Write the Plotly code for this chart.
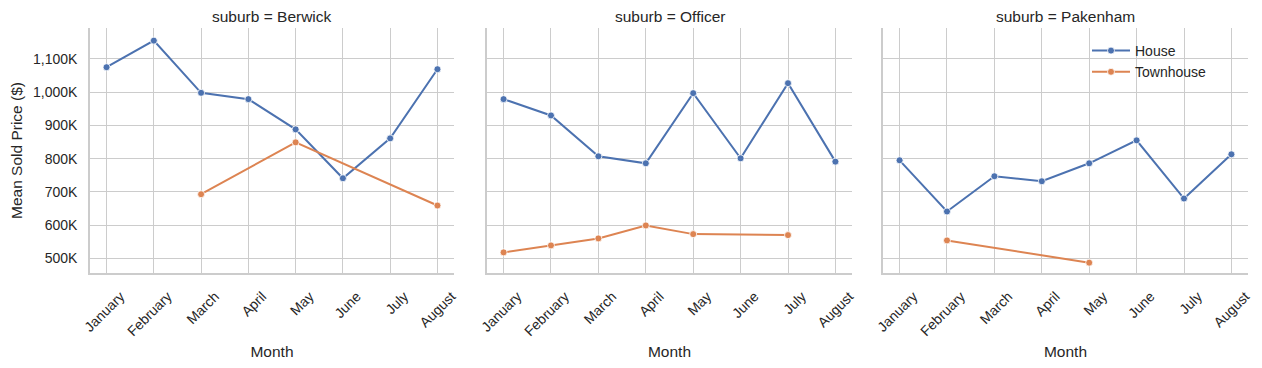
import plotly.graph_objects as go
from plotly.subplots import make_subplots

months = ["January", "February", "March", "April", "May", "June", "July", "August"]
suburbs = ["Berwick", "Officer", "Pakenham"]

berwick_house = [1075000, 1155000, 998000, 979000, 888000, 741000, 861000, 1069000]
berwick_townhouse = [None, None, 693000, None, 849000, None, None, 659000]
officer_house = [979000, 930000, 807000, 786000, 997000, 801000, 1027000, 791000]
officer_townhouse = [518000, 539000, 560000, 599000, 573000, None, 570000, None]
pakenham_house = [795000, 641000, 747000, 732000, 786000, 855000, 680000, 813000]
pakenham_townhouse = [None, 554000, None, None, 487000, None, None, None]

y_tickvals = [500000, 600000, 700000, 800000, 900000, 1000000, 1100000]
y_ticktext = ["500K", "600K", "700K", "800K", "900K", "1,000K", "1,100K"]

house_color = "#4c72b0"
town_color = "#dd8452"
FONT = "Liberation Sans, Arial, sans-serif"
TXT = "#262626"
GRID = "#cccccc"

OFF = 8  # page body margin
W, H = 1262 - OFF, 368 - OFF
fig = make_subplots(rows=1, cols=3, shared_yaxes=True)

data = {
    "Berwick": (berwick_house, berwick_townhouse),
    "Officer": (officer_house, officer_townhouse),
    "Pakenham": (pakenham_house, pakenham_townhouse),
}

for i, s in enumerate(suburbs):
    h, t = data[s]
    for name, vals, col in (("House", h, house_color), ("Townhouse", t, town_color)):
        fig.add_trace(
            go.Scatter(
                x=months, y=vals, mode="lines+markers", name=name,
                connectgaps=True, showlegend=(i == 2), legendgroup=name,
                line=dict(color=col, width=2),
                marker=dict(color=col, size=7, line=dict(color="white", width=0.8)),
            ),
            row=1, col=i + 1,
        )

# panel pixel extents (page coords)
panels = [(90, 454), (487, 852), (883, 1248)]
top_px, bot_px = 28 - OFF, 273 - OFF
ydom = [1 - bot_px / H, 1 - top_px / H]

for i, (l, r) in enumerate(panels):
    l, r = l - OFF, r - OFF
    ax = "xaxis" if i == 0 else f"xaxis{i+1}"
    yax = "yaxis" if i == 0 else f"yaxis{i+1}"
    fig.layout[ax].update(
        domain=[l / W, r / W], type="category", categoryorder="array",
        categoryarray=months, range=[-0.35, 7.35], automargin=False,
        showgrid=True, gridcolor=GRID, gridwidth=1,
        showline=True, linecolor=GRID, linewidth=1.5,
        ticks="", tickangle=-45, ticklabelshift=14, ticklabelstandoff=8,
        tickfont=dict(family=FONT, size=14, color=TXT),
        title=dict(text="Month", font=dict(family=FONT, size=15.5, color=TXT), standoff=8),
        zeroline=False,
    )
    fig.layout[yax].update(
        domain=ydom, range=[456000, 1193000], automargin=False,
        tickvals=y_tickvals, ticktext=y_ticktext,
        showgrid=True, gridcolor=GRID, gridwidth=1,
        showline=True, linecolor=GRID, linewidth=1.5,
        ticks="", showticklabels=(i == 0), ticklabelstandoff=8,
        tickfont=dict(family=FONT, size=14, color=TXT),
        zeroline=False,
    )
    fig.add_annotation(
        text=f"suburb = {suburbs[i]}", xref="paper", yref="paper",
        x=(l + r) / 2 / W, y=1 - (16 - OFF) / H, xanchor="center", yanchor="middle",
        showarrow=False, font=dict(family=FONT, size=15.5, color=TXT),
    )

fig.layout.yaxis.title = dict(text="Mean Sold Price ($)", font=dict(family=FONT, size=15.5, color=TXT), standoff=18)

fig.update_layout(
    width=W, height=H, margin=dict(l=0, r=0, t=0, b=0, autoexpand=False),
    paper_bgcolor="white", plot_bgcolor="white",
    legend=dict(
        x=(1087 - OFF) / W, y=1 - (35 - OFF) / H, xanchor="left", yanchor="top",
        bgcolor="rgba(0,0,0,0)", font=dict(family=FONT, size=14, color=TXT),
        tracegroupgap=0, itemwidth=38,
    ),
    showlegend=True,
)

fig.write_html("out.html")
